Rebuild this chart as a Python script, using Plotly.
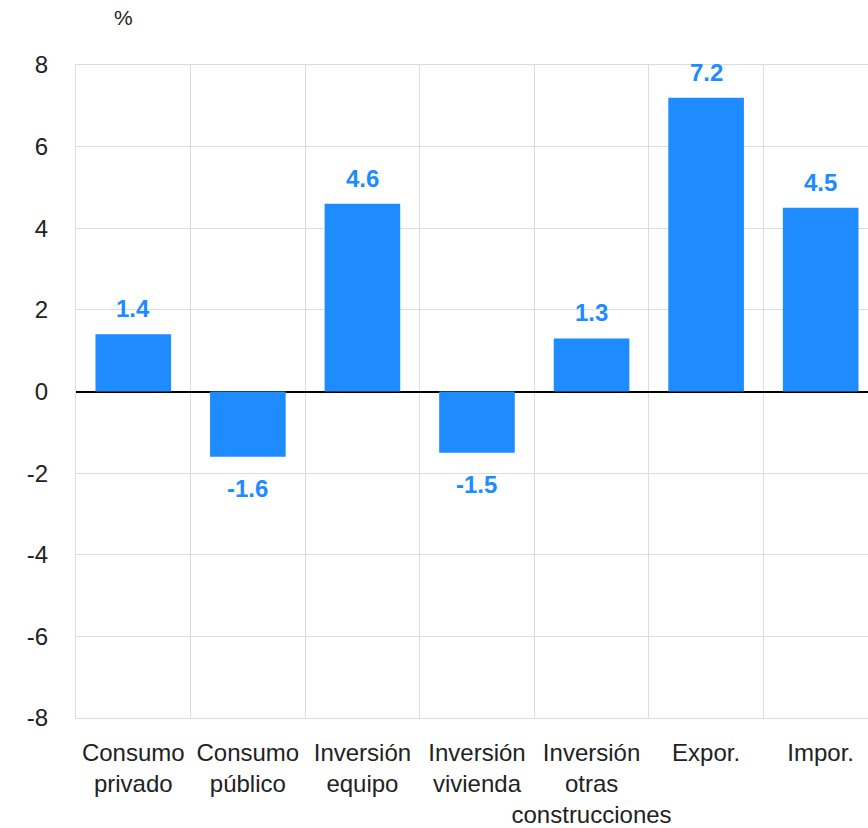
import plotly.graph_objects as go

# Contribution by demand component, %
categories = ["Consumo<br>privado", "Consumo<br>público", "Inversión<br>equipo",
              "Inversión<br>vivienda", "Inversión<br>otras<br>construcciones",
              "Expor.", "Impor."]
values = [1.4, -1.6, 4.6, -1.5, 1.3, 7.2, 4.5]
y_ticks = [-8, -6, -4, -2, 0, 2, 4, 6, 8]

BLUE = "#1e8cff"
GRID = "#dcdcdc"
TEXT = "#222222"
FONT = "Liberation Sans"

fig = go.Figure()
fig.add_trace(go.Bar(
    x=categories, y=values, width=0.66,
    marker=dict(color=BLUE, line=dict(width=0)),
    hoverinfo="skip",
))

# value labels above positive bars, below negative ones
for cat, v in zip(categories, values):
    fig.add_annotation(
        x=cat, y=v, text=f"<b>{v:.1f}</b>", showarrow=False,
        yanchor="bottom" if v >= 0 else "top",
        yshift=10 if v >= 0 else -16,
        font=dict(family=FONT, size=24, color=BLUE),
    )

# unit label above the value axis
fig.add_annotation(
    x=(123 - 76) / 792, y=1, xref="paper", yref="paper",
    xanchor="center", yanchor="bottom", yshift=34, text="%", showarrow=False,
    font=dict(family=FONT, size=21, color=TEXT),
)

fig.update_layout(
    width=868, height=828,
    margin=dict(l=76, r=0, t=65, b=110),
    paper_bgcolor="white", plot_bgcolor="white",
    showlegend=False, bargap=0.34,
    font=dict(family=FONT, size=24, color=TEXT),
    xaxis=dict(
        type="category", tickson="boundaries", range=[-0.5, 6.413],
        showgrid=True, gridcolor=GRID, gridwidth=1,
        showline=True, linecolor=GRID, linewidth=1, mirror=True,
        ticks="", ticklabelstandoff=13, tickangle=0, automargin=False,
        tickfont=dict(size=24, color=TEXT),
    ),
    yaxis=dict(
        range=[-8, 8], tickvals=y_ticks, ticktext=[str(t) for t in y_ticks],
        showgrid=True, gridcolor=GRID, gridwidth=1,
        showline=True, linecolor=GRID, linewidth=1,
        zeroline=True, zerolinecolor="black", zerolinewidth=2,
        ticks="", ticklabelstandoff=22, automargin=False,
        tickfont=dict(size=24, color=TEXT),
    ),
)

fig.write_html("out.html")
